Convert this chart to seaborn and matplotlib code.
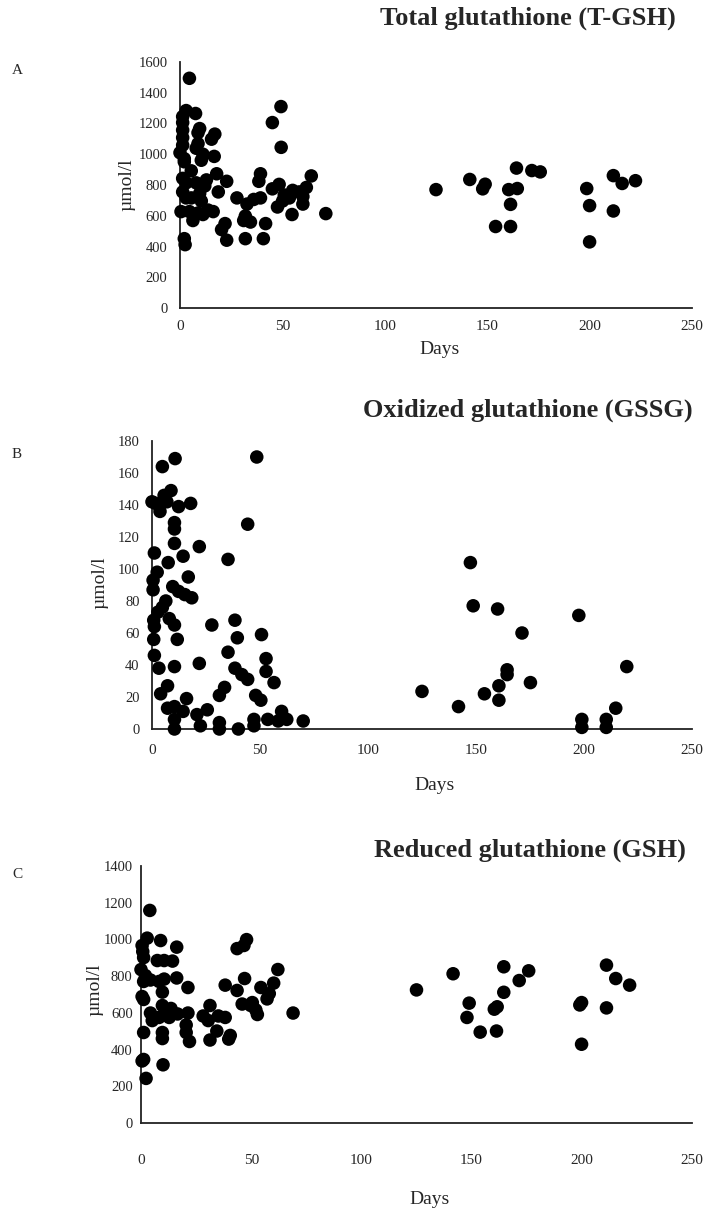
import numpy as np
import pandas as pd
import seaborn as sns
import matplotlib.pyplot as plt

# Panel A - total glutathione (T-GSH), days vs umol/l
tgsh_days = [4.6, 49.3, 45.1, 49.4, 3.0, 7.6, 1.3, 1.3, 1.3, 1.3, 1.3, 9.6, 8.8, 17.0, 15.4,
             8.8, 7.9, 0.0, 2.1, 11.2, 10.4, 16.7, 2.1, 5.5, 17.9, 22.8, 39.3, 38.5, 64.1, 1.3,
             3.0, 7.9, 12.9, 12.1, 45.1, 48.4, 18.7, 1.3, 3.0, 5.5, 9.6, 10.4, 27.8, 32.7, 36.0,
             39.3, 50.9, 55.0, 61.7, 60.0, 58.3, 47.6, 50.1, 53.4, 60.0, 0.5, 4.6, 8.8, 13.7, 16.2,
             6.3, 11.2, 31.9, 31.1, 34.4, 41.8, 22.0, 20.3, 54.7, 71.2, 2.1, 2.5, 22.8, 31.9, 40.7,
             125, 141.5, 149, 147.8, 160.5, 164.7, 164.3, 171.8, 175.9, 161.4, 154.1, 161.4,
             198.6, 200, 200, 211.6, 215.9, 222.4, 211.6]
tgsh = [1494, 1310, 1206, 1045, 1284, 1265, 1245, 1206, 1157, 1108, 1059, 1167, 1140, 1131, 1098,
        1069, 1039, 1010, 971, 1000, 961, 986, 951, 892, 873, 824, 873, 824, 859, 843,
        814, 814, 833, 794, 775, 804, 755, 755, 716, 716, 745, 696, 716, 676, 706,
        716, 735, 765, 784, 725, 755, 657, 696, 716, 676, 627, 627, 618, 637, 627,
        569, 608, 598, 569, 559, 549, 549, 510, 608, 614, 451, 412, 441, 451, 451,
        770, 836, 805, 775, 770, 777, 910, 894, 885, 674, 530, 530,
        777, 666, 430, 861, 810, 828, 631]

# Panel B - oxidized glutathione (GSSG)
gssg_days = [48.5, 10.7, 4.8, 44.3, 0.0, 1.6, 3.7, 5.6, 8.8, 6.9, 12.3, 17.9, 10.4, 10.4, 10.4,
             21.9, 1.1, 14.4, 35.2, 7.5, 2.4, 16.8, 0.5, 0.5, 9.6, 12.3, 15.2, 18.4, 6.4, 4.8,
             2.7, 0.8, 1.1, 0.8, 8.0, 10.4, 11.7, 27.7, 38.4, 39.5, 50.7, 1.1, 3.2, 10.4, 21.9,
             35.2, 38.4, 41.6, 44.3, 52.8, 52.8, 56.5, 33.6, 31.2, 7.2, 4.0, 16.0, 48.0, 50.4, 7.2,
             10.4, 14.4, 10.4, 10.4, 20.8, 22.4, 31.2, 31.2, 40.0, 47.2, 47.2, 53.6, 58.4, 60.0, 62.4,
             70.0, 25.6,
             125, 141.9, 147.4, 148.7, 160, 171.3, 164.4, 164.4, 160.6, 160.6, 153.9, 175.2,
             197.6, 199, 199, 210.3, 210.3, 214.7, 219.8]
gssg = [170, 169, 164, 128, 142, 141, 136, 146, 149, 142, 139, 141, 129, 125, 116,
        114, 110, 108, 106, 104, 98, 95, 93, 87, 89, 86, 84, 82, 80, 76,
        73, 68, 64, 56, 69, 65, 56, 65, 68, 57, 59, 46, 38, 39, 41,
        48, 38, 34, 31, 44, 36, 29, 26, 21, 27, 22, 19, 21, 18, 13,
        14, 11, 6, 0, 9, 2, 4, 0, 0, 6, 2, 6, 5, 11, 6,
        5, 12,
        23.5, 14, 104, 77, 75, 60, 37, 34, 27, 18, 22, 29,
        71, 6, 1, 6, 1, 13, 39]

# Panel C - reduced glutathione (GSH)
gsh_days = [4.0, 2.8, 8.9, 0.5, 0.8, 1.2, 16.2, 7.4, 10.5, 14.3, 47.9, 43.6, 46.7, 62.1, 0.0,
            2.0, 4.3, 1.2, 8.2, 10.5, 16.2, 21.3, 38.2, 43.6, 47.0, 60.2, 54.4, 58.2, 57.2, 9.7,
            0.5, 1.2, 45.9, 49.8, 52.1, 52.8, 50.5, 69.0, 4.3, 5.1, 9.7, 11.2, 13.6, 12.8, 16.6,
            21.3, 8.2, 31.3, 28.2, 30.5, 35.1, 38.2, 1.2, 9.7, 9.7, 20.5, 20.5, 22.0, 34.4, 31.3,
            40.5, 39.8, 1.2, 0.5, 10.0, 2.3,
            125, 141.6, 148.9, 147.9, 153.9, 161.3, 160.3, 161.6, 164.6, 164.6, 171.6, 175.9,
            199.1, 199.9, 199.9, 211.2, 215.4, 221.7, 211.2]
gsh = [1158, 1007, 994, 967, 934, 901, 958, 885, 885, 882, 999, 950, 967, 836, 836,
       803, 779, 771, 771, 784, 790, 738, 751, 722, 787, 762, 738, 705, 676, 713,
       689, 673, 648, 640, 616, 591, 656, 599, 599, 558, 640, 607, 624, 575, 594,
       599, 575, 640, 583, 558, 583, 575, 493, 493, 460, 534, 493, 444, 501, 452,
       477, 457, 346, 338, 317, 243,
       725, 813, 653, 575, 495, 501, 620, 633, 712, 851, 776, 829,
       643, 656, 429, 860, 787, 751, 627]

sns.set_style("white")
plt.rcParams['font.family'] = ['Liberation Serif', 'DejaVu Serif']

W, H = 712, 1220
fig = plt.figure(figsize=(W / 100, H / 100), dpi=100)


def panel(px_left, px_right, px_top, px_bottom, x, y, ymax, ystep, xpad=9, ypad=9):
    ax = fig.add_axes([px_left / W, 1 - px_bottom / H,
                       (px_right - px_left) / W, (px_bottom - px_top) / H])
    sns.scatterplot(x=x, y=y, ax=ax, color='black', s=95, edgecolor='none',
                    linewidth=0, clip_on=False, zorder=3)
    ax.set_xlim(0, 250)
    ax.set_ylim(0, ymax)
    ax.set_xticks(np.arange(0, 251, 50))
    ax.set_yticks(np.arange(0, ymax + 1, ystep))
    ax.tick_params(axis='x', length=0, labelsize=11, pad=xpad)
    ax.tick_params(axis='y', length=0, labelsize=10.5, pad=ypad)
    for side in ['top', 'right']:
        ax.spines[side].set_visible(False)
    for side in ['left', 'bottom']:
        ax.spines[side].set_color('#222222')
        ax.spines[side].set_linewidth(1.3)
    ax.set_xlabel('')
    ax.set_ylabel('')
    return ax


panel(180, 692, 62, 308, tgsh_days, tgsh, 1600, 200)
panel(152, 692, 441, 729, gssg_days, gssg, 180, 20, xpad=11)
panel(141, 692, 866, 1123, gsh_days, gsh, 1400, 200, xpad=22, ypad=6)

title_kw = dict(ha='center', va='center', fontsize=19, fontweight='bold')
fig.text(528 / W, 1 - 18 / H, 'Total glutathione (T-GSH)', **title_kw)
fig.text(528 / W, 1 - 410 / H, 'Oxidized glutathione (GSSG)', **title_kw)
fig.text(530 / W, 1 - 850 / H, 'Reduced glutathione (GSH)', **title_kw)

for lab, yy in [('A', 70), ('B', 455), ('C', 875)]:
    fig.text(12 / W, 1 - yy / H, lab, ha='left', va='center', fontsize=11)

for xx, yy in [(440, 350), (435, 785), (430, 1200)]:
    fig.text(xx / W, 1 - yy / H, 'Days', ha='center', va='center', fontsize=14)

for xx, yy in [(127, 185), (100, 583), (95, 990)]:
    fig.text(xx / W, 1 - yy / H, 'µmol/l', ha='center', va='center', fontsize=14,
             rotation=90)

fig.savefig('out.png', dpi=100)
